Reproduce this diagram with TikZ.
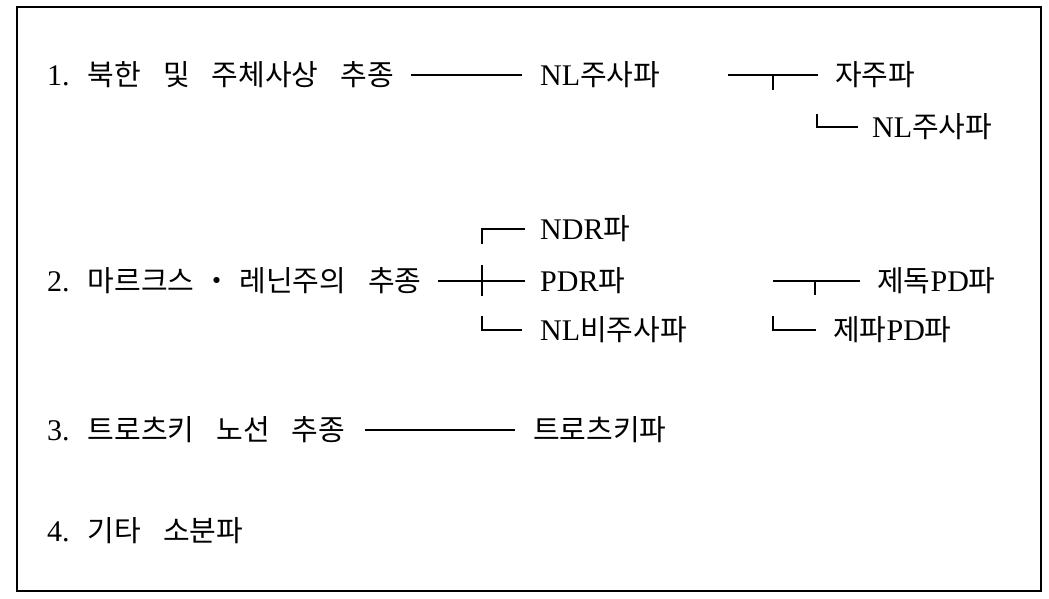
\documentclass[tikz,border=0pt]{standalone}
\usepackage{fontspec}
\setmainfont{Liberation Serif}
\newfontfamily\kr[Scale=0.967]{Noto Sans CJK KR}
\newcommand{\ws}{\hspace{22pt}}
\newcommand{\ns}{\hspace{18pt}}
\tikzset{
  lbl/.style={anchor=west, inner sep=0pt, font=\fontsize{30}{34}\selectfont},
  ln/.style={line width=1.7pt, line cap=butt},
  frame/.style={line width=2pt}
}
\begin{document}
\begin{tikzpicture}[x=1pt, y=-1pt]
\useasboundingbox (0,0) rectangle (1049,598);
\draw[frame] (17,7) rectangle (1041,591);

% row 1
\node[lbl] (t1) at (47,75) {1.\ns{\kr 북한\ws 및\ws 주체사상\ws 추종}};
\node[lbl] (a1) at (540,75) {NL{\kr 주사파}};
\node[lbl] (a2) at (835,75) {{\kr 자주파}};
\node[lbl] (a3) at (872,127) {NL{\kr 주사파}};
\coordinate (s1) at (728,75);
\draw[ln] ([xshift=17]t1.east) -- ([xshift=-18]a1.west);
\draw[ln] (s1) -- ([xshift=-17]a2.west);
\draw[ln] ([xshift=-62]a2.west) -- ++(0,15);
\draw[ln] ([xshift=-55]a3.west) ++(0,-13) -- ([xshift=-55]a3.west) -- ([xshift=-14]a3.west);

% row 2
\node[lbl] (t2) at (47,281) {2.\ns{\kr 마르크스\hspace{8pt}・\hspace{8pt}레닌주의\ws 추종}};
\node[lbl] (b1) at (540,229) {NDR{\kr 파}};
\node[lbl] (b2) at (540,281) {PDR{\kr 파}};
\node[lbl] (b3) at (540,330) {NL{\kr 비주사파}};
\node[lbl] (c1) at (877,281) {{\kr 제독}PD{\kr 파}};
\node[lbl] (c2) at (833,330) {{\kr 제파}PD{\kr 파}};
\coordinate (s2) at (773,281);
\draw[ln] ([xshift=-58]b1.west) ++(0,15) -- ([xshift=-58]b1.west) -- ([xshift=-15]b1.west);
\draw[ln] ([xshift=16]t2.east) -- ([xshift=-15]b2.west);
\draw[ln] ([xshift=-58]b2.west) ++(0,-16) -- ++(0,31);
\draw[ln] ([xshift=-58]b3.west) ++(0,-14) -- ([xshift=-58]b3.west) -- ([xshift=-18]b3.west);
\draw[ln] (s2) -- ([xshift=-17]c1.west);
\draw[ln] ([xshift=-62]c1.west) -- ++(0,14);
\draw[ln] ([xshift=-60]c2.west) ++(0,-14) -- ([xshift=-60]c2.west) -- ([xshift=-17]c2.west);

% row 3
\node[lbl] (t3) at (47,430) {3.\ns{\kr 트로츠키\ws 노선\ws 추종}};
\node[lbl] (d1) at (533,430) {{\kr 트로츠키파}};
\draw[ln] ([xshift=20]t3.east) -- ([xshift=-18]d1.west);

% row 4
\node[lbl] (t4) at (47,531) {4.\ns{\kr 기타\ws 소분파}};
\end{tikzpicture}
\end{document}
